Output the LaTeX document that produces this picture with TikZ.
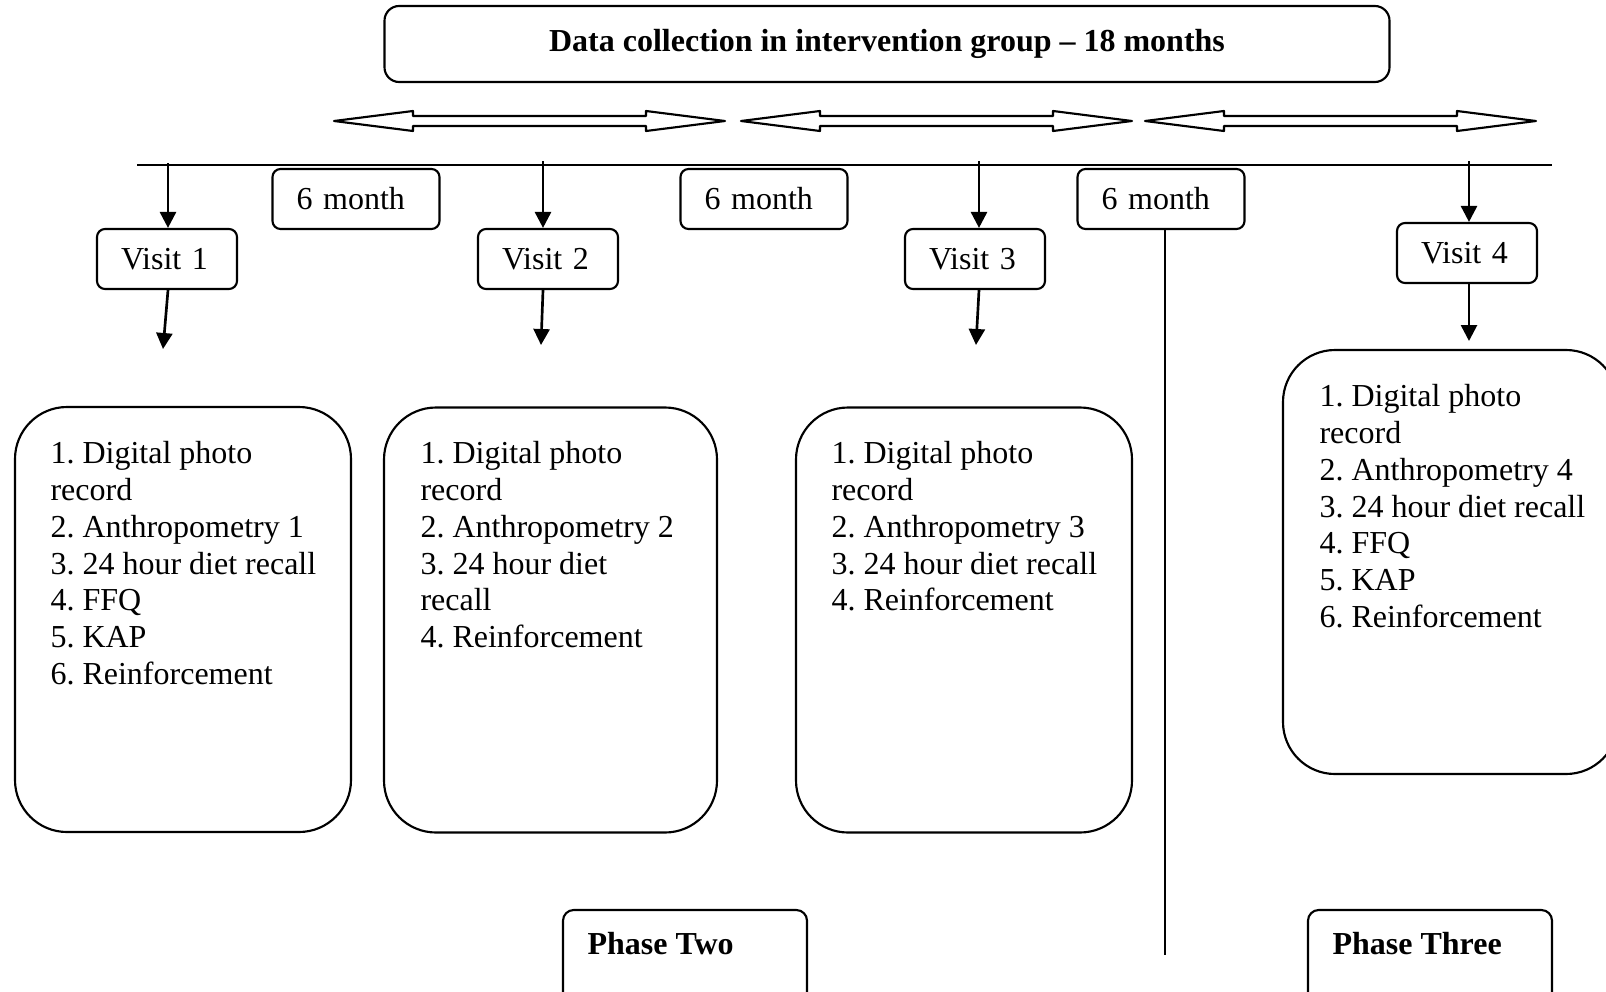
\documentclass[tikz,border=0pt]{standalone}
\usepackage{fontspec}
\setmainfont{Liberation Serif}
\usetikzlibrary{arrows.meta}
\frenchspacing

\newdimen\px \px=0.375pt

\tikzset{
  roundbox/.style={draw,line width=0.8pt,rounded corners=3pt,inner ysep=0pt,
    inner xsep=24\px,align=left,font=\fontsize{12}{13.8}\selectfont},
  monthbox/.style={roundbox,text width=119\px,minimum height=60\px},
  visitbox/.style={roundbox,text width=92\px,minimum height=60\px},
  listbox/.style={draw,line width=0.8pt,rounded corners=19.5pt,inner sep=0pt},
  listtext/.style={anchor=north west,align=left,inner sep=0pt,
    font=\fontsize{12}{13.8}\selectfont},
  phasebox/.style={draw,line width=0.8pt,rounded corners=4pt,inner sep=0pt,
    minimum width=244\px,minimum height=100\px},
  phasetext/.style={anchor=base west,inner sep=0pt,
    font=\fontsize{12}{13.8}\selectfont\bfseries},
  flow/.style={->,line width=1pt},
}

\begin{document}
\begin{tikzpicture}[x=0.375pt,y=-0.375pt,>={Triangle[length=6pt,width=6pt]}]
  \path[use as bounding box,clip] (0,0) rectangle (1606,992);

  % title
  \node[draw,line width=0.8pt,rounded corners=5.5pt,inner sep=0pt,
    minimum width=1005\px,minimum height=76\px,
    font=\fontsize{12}{13.8}\selectfont\bfseries] (title) at (887,44)
    {Data collection in intervention group -- 18 months};

  % open double arrows
  \foreach \s in {334,741,1145} {
    \draw[line width=0.8pt,line join=round] (\s,121) -- (\s+79,111) -- (\s+79,116) -- (\s+312,116)
      -- (\s+312,111) -- (\s+391,121) -- (\s+312,131) -- (\s+312,126)
      -- (\s+79,126) -- (\s+79,131) -- cycle;
  }

  % time line
  \coordinate (tl) at (137,165);
  \coordinate (tr) at (1552,165);
  \draw[line width=0.8pt] (tl) -- (tr);

  \node[monthbox] (month1) at (356,199) {6 month};
  \node[monthbox] (month2) at (764,199) {6 month};
  \node[monthbox] (month3) at (1161,199) {6 month};

  \node[visitbox] (visit1) at (167,259) {Visit 1};
  \node[visitbox] (visit2) at (548,259) {Visit 2};
  \node[visitbox] (visit3) at (975,259) {Visit 3};
  \node[visitbox] (visit4) at (1467,253) {Visit 4};

  \coordinate (in1) at (168,163);
  \coordinate (in2) at (543,161);
  \coordinate (in3) at (979,161);
  \coordinate (in4) at (1469,161);
  \coordinate (out1) at (163,349);
  \coordinate (out2) at (541,345);
  \coordinate (out3) at (976,345);
  \coordinate (out4) at (1469,341);

  \foreach \i in {1,2,3,4} {
    \draw[flow] (in\i) -- (in\i |- visit\i.north);
    \draw[flow] (in\i |- visit\i.south) -- (out\i);
  }

  % visit contents
  \node[listbox,minimum width=336\px,minimum height=425\px] (list1) at (183,619.5) {};
  \node[listbox,minimum width=333\px,minimum height=425\px] (list2) at (550.5,620) {};
  \node[listbox,minimum width=336\px,minimum height=425\px] (list3) at (964,620) {};
  \node[listbox,minimum width=335\px,minimum height=424\px] (list4) at (1450.5,562) {};

  \node[listtext] (text1) at (50,441)
    {1. Digital photo\\record\\2. Anthropometry 1\\3. 24 hour diet recall\\4. FFQ\\5. KAP\\6. Reinforcement};
  \node[listtext] (text2) at (420,441)
    {1. Digital photo\\record\\2. Anthropometry 2\\3. 24 hour diet\\recall\\4. Reinforcement};
  \node[listtext] (text3) at (831,441)
    {1. Digital photo\\record\\2. Anthropometry 3\\3. 24 hour diet recall\\4. Reinforcement};
  \node[listtext] (text4) at (1319,384)
    {1. Digital photo\\record\\2. Anthropometry 4\\3. 24 hour diet recall\\4. FFQ\\5. KAP\\6. Reinforcement};

  % phases
  \coordinate (cutend) at (1165,955);
  \draw[line width=0.8pt] (month3.south -| cutend) -- (cutend);

  \node[phasebox] (phase2) at (685,960) {};
  \node[phasebox] (phase3) at (1430,960) {};
  \node[phasetext] (phase2text) at (587,954) {Phase Two};
  \node[phasetext] (phase3text) at (1332,954) {Phase Three};
\end{tikzpicture}
\end{document}
